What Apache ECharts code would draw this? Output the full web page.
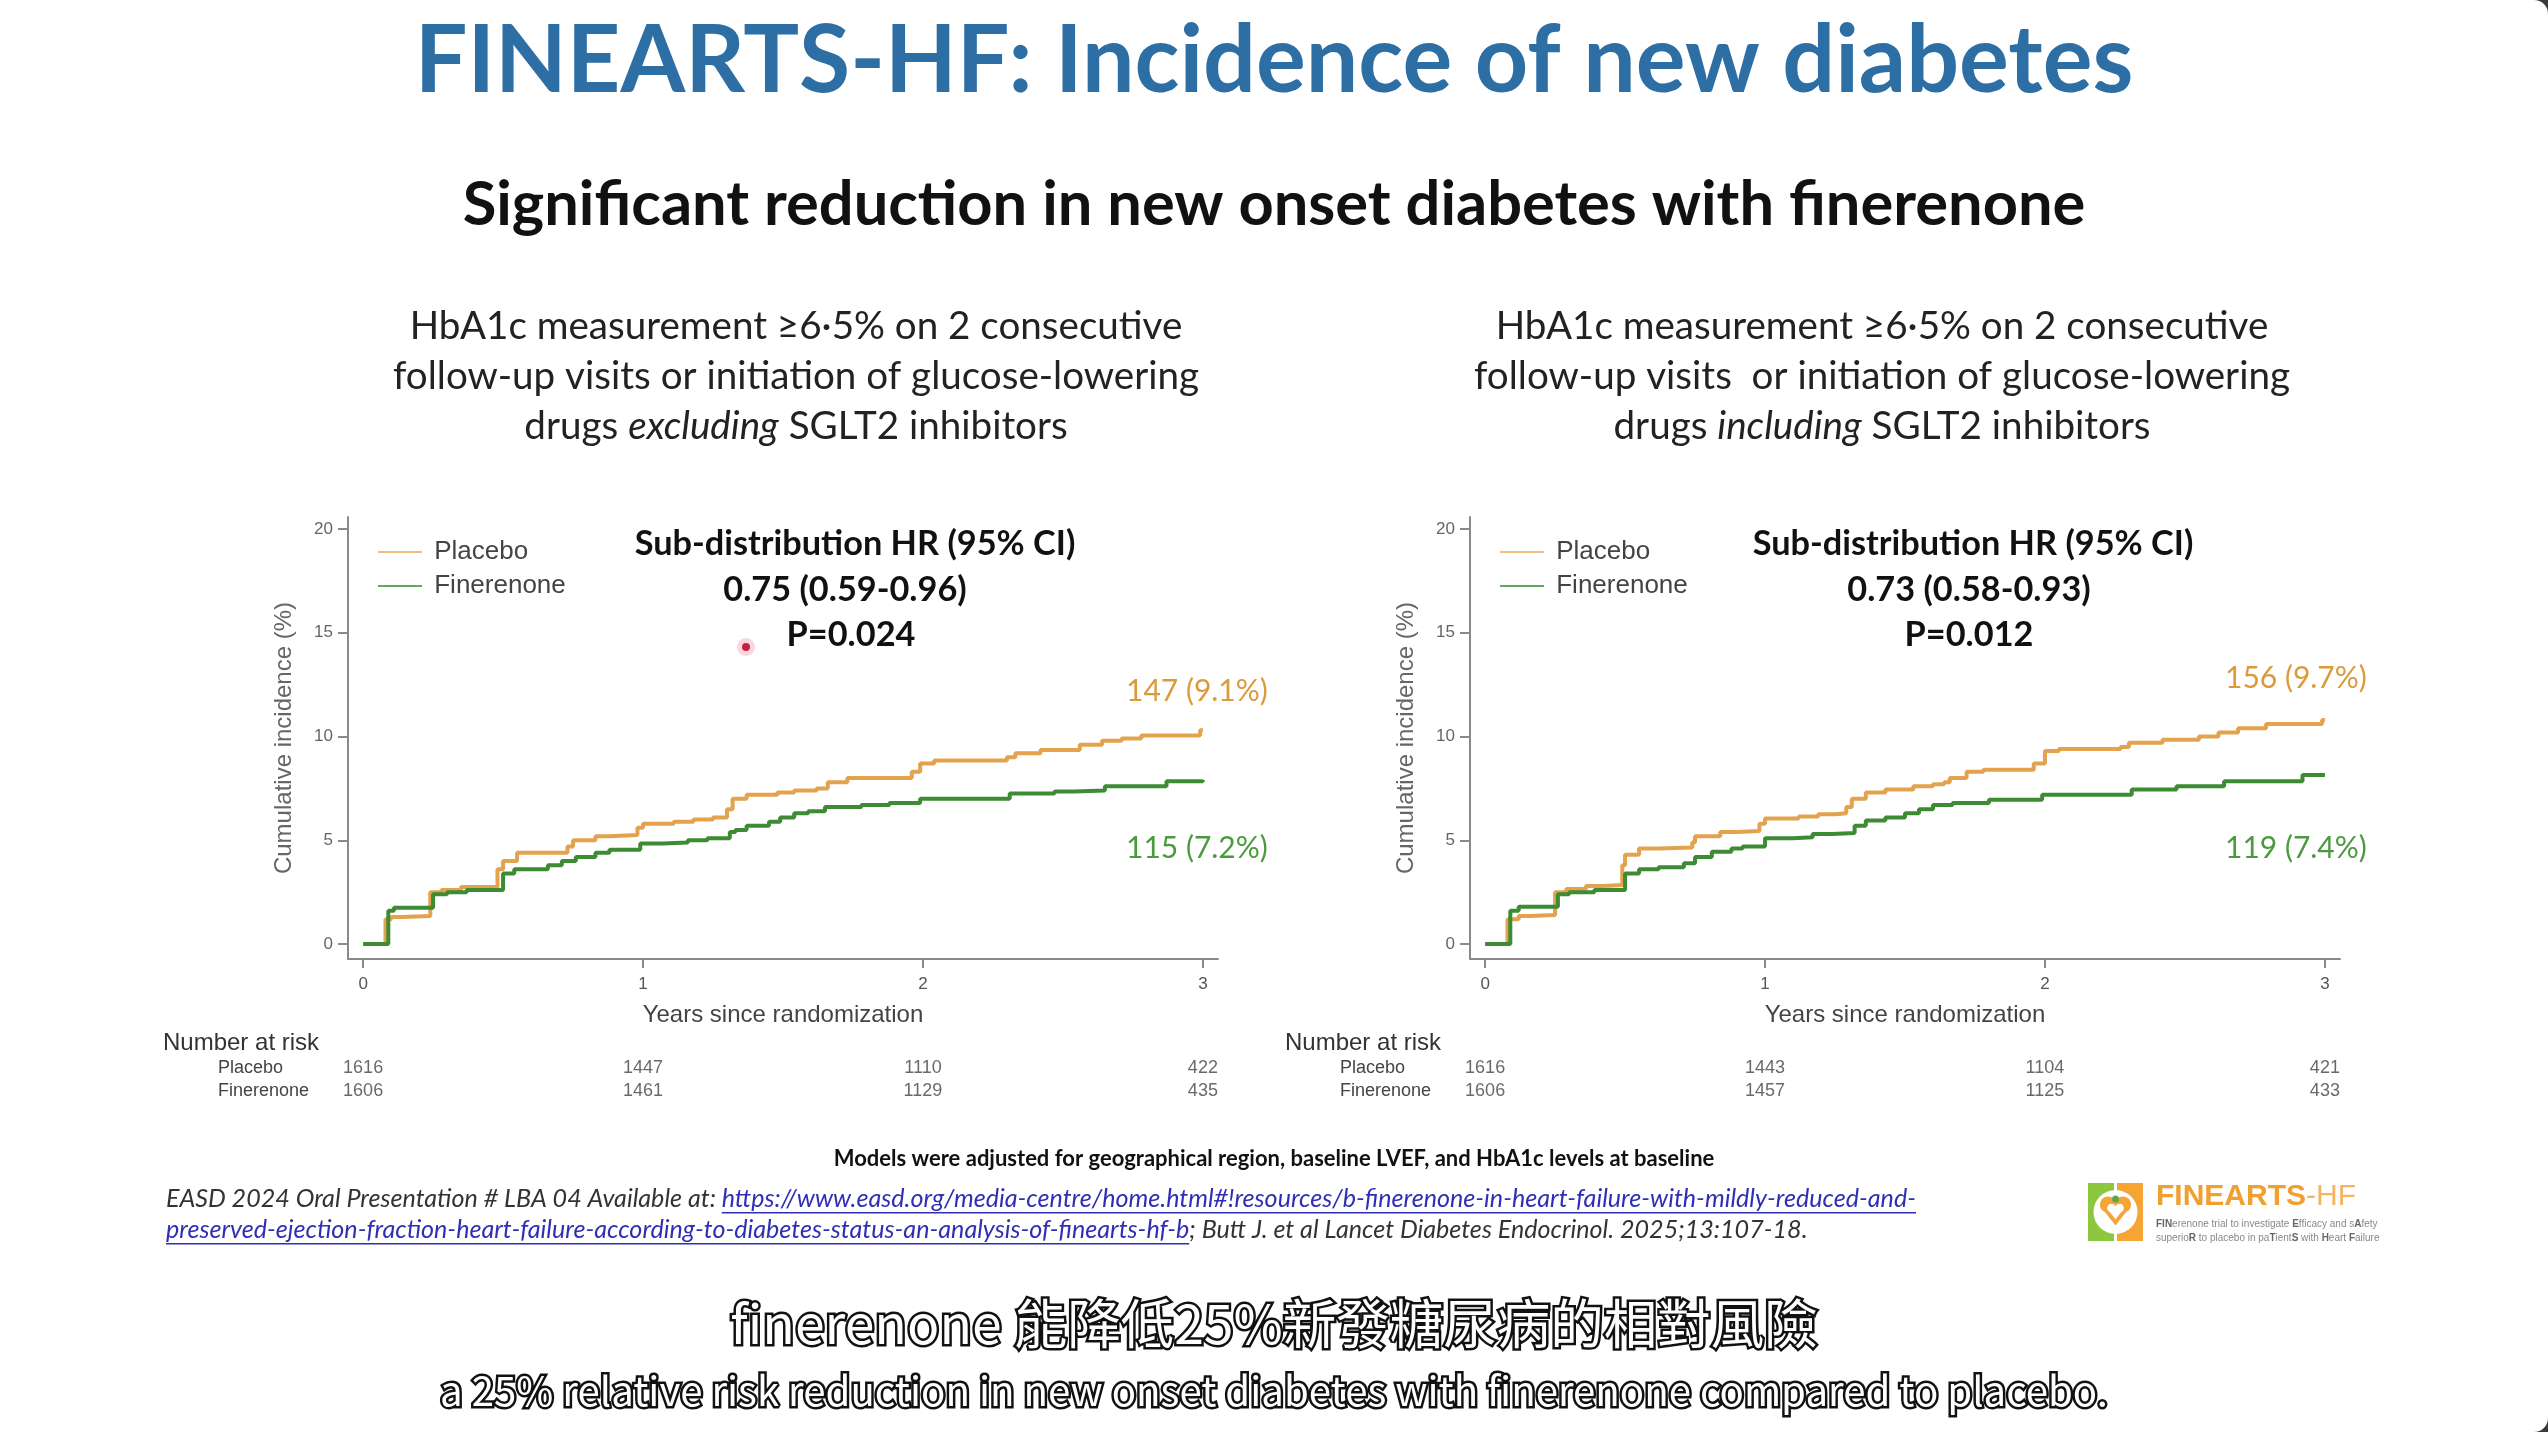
<!DOCTYPE html>
<html>
<head>
<meta charset="utf-8">
<title>FINEARTS-HF: Incidence of new diabetes</title>
<script src="https://cdn.jsdelivr.net/npm/echarts@6/dist/echarts.min.js"></script>
<style>
html, body { margin: 0; padding: 0; background: #3a3a3a; }
#container { width: 2548px; height: 1432px; }
</style>
</head>
<body>
<div id="container"></div>
<script>
// ---- data ----
var years = [0, 1, 2, 3];
var yTicks = [0, 5, 10, 15, 20];
var arms = ['Placebo', 'Finerenone'];

// left panel: glucose-lowering drugs excluding SGLT2 inhibitors
var placeboExcl = [[0,0],[0.08,1.2],[0.10,1.3],[0.14,1.35],[0.24,2.5],[0.28,2.6],[0.35,2.75],[0.48,3.6],[0.50,4.0],[0.55,4.4],[0.73,4.7],[0.75,5.0],[0.83,5.2],[0.88,5.25],[0.98,5.6],[1.00,5.8],[1.11,5.9],[1.18,6.0],[1.25,6.1],[1.30,6.5],[1.32,7.0],[1.37,7.2],[1.48,7.3],[1.54,7.4],[1.62,7.5],[1.66,7.8],[1.73,8.0],[1.96,8.3],[1.99,8.7],[2.04,8.85],[2.30,9.0],[2.33,9.2],[2.42,9.35],[2.56,9.6],[2.64,9.8],[2.71,9.9],[2.78,10.05],[2.99,10.3],[3.0,10.3]];
var finerExcl = [[0,0],[0.09,1.6],[0.11,1.75],[0.25,2.4],[0.30,2.5],[0.37,2.6],[0.50,3.4],[0.54,3.6],[0.66,3.8],[0.71,4.0],[0.76,4.2],[0.83,4.4],[0.88,4.55],[0.99,4.85],[1.07,4.9],[1.16,5.0],[1.23,5.1],[1.31,5.4],[1.33,5.5],[1.37,5.7],[1.45,5.9],[1.49,6.1],[1.54,6.3],[1.59,6.4],[1.65,6.6],[1.78,6.7],[1.88,6.8],[1.99,7.0],[2.31,7.25],[2.47,7.35],[2.54,7.4],[2.65,7.6],[2.87,7.85],[3.0,7.9]];
var riskPlaceboExcl = [1616, 1447, 1110, 422];
var riskFinerExcl = [1606, 1461, 1129, 435];
var hrExcl = ['Sub-distribution HR (95% CI)', '0.75 (0.59-0.96)', 'P=0.024'];
var endExcl = ['147 (9.1%)', '115 (7.2%)'];

// right panel: including SGLT2 inhibitors
var placeboIncl = [[0,0],[0.08,1.2],[0.12,1.35],[0.16,1.4],[0.25,2.5],[0.29,2.65],[0.36,2.8],[0.42,2.85],[0.49,3.8],[0.50,4.3],[0.55,4.6],[0.62,4.65],[0.74,4.9],[0.75,5.2],[0.84,5.4],[0.90,5.45],[0.98,5.8],[1.00,6.05],[1.12,6.15],[1.19,6.25],[1.25,6.3],[1.29,6.6],[1.31,7.0],[1.36,7.3],[1.43,7.45],[1.53,7.6],[1.60,7.7],[1.64,7.8],[1.66,8.0],[1.72,8.3],[1.78,8.4],[1.96,8.7],[2.00,9.3],[2.05,9.4],[2.27,9.5],[2.30,9.7],[2.42,9.85],[2.55,10.0],[2.62,10.2],[2.69,10.4],[2.79,10.6],[2.99,10.8],[3.0,10.8]];
var finerIncl = [[0,0],[0.09,1.6],[0.12,1.8],[0.26,2.4],[0.30,2.5],[0.39,2.6],[0.50,3.4],[0.55,3.6],[0.62,3.7],[0.71,3.9],[0.75,4.2],[0.81,4.45],[0.88,4.6],[0.92,4.7],[1.00,5.1],[1.10,5.15],[1.17,5.3],[1.24,5.35],[1.32,5.7],[1.36,5.95],[1.43,6.1],[1.50,6.3],[1.55,6.5],[1.60,6.7],[1.67,6.8],[1.80,6.95],[1.99,7.2],[2.31,7.45],[2.47,7.6],[2.64,7.85],[2.92,8.15],[3.0,8.15]];
var riskPlaceboIncl = [1616, 1443, 1104, 421];
var riskFinerIncl = [1606, 1457, 1125, 433];
var hrIncl = ['Sub-distribution HR (95% CI)', '0.73 (0.58-0.93)', 'P=0.012'];
var endIncl = ['156 (9.7%)', '119 (7.4%)'];

var captionExcl = ['HbA1c measurement \u22656\u00b75% on 2 consecutive', 'follow-up visits or initiation of glucose-lowering', ['drugs ', 'excluding', ' SGLT2 inhibitors']];
var captionIncl = ['HbA1c measurement \u22656\u00b75% on 2 consecutive', 'follow-up visits  or initiation of glucose-lowering', ['drugs ', 'including', ' SGLT2 inhibitors']];

var refLine1 = [['EASD 2024 Oral Presentation # LBA 04 Available at: ', false], ['https://www.easd.org/media-centre/home.html#!resources/b-finerenone-in-heart-failure-with-mildly-reduced-and-', true]];
var refLine2 = [['preserved-ejection-fraction-heart-failure-according-to-diabetes-status-an-analysis-of-finearts-hf-b', true], ['; Butt J. et al Lancet Diabetes Endocrinol. 2025;13:107-18.', false]];

// ---- styling ----
var orange = '#E2A24E', orangeText = '#DB9A3B', orangeLegend = '#EDBD84';
var green = '#3D8B33', greenText = '#4C9A40', greenLegend = '#64A85E';
var axisGray = '#8a8a8a';
var lato = 'Lato, "Open Sans", sans-serif';
var arial = '"Liberation Sans", Arial, sans-serif';
var cjk = '"Noto Sans CJK TC", "Noto Sans", sans-serif';

var ctx = document.createElement('canvas').getContext('2d');
function measure(font, text) {
    ctx.font = font;
    return ctx.measureText(text).width;
}
function fitSize(style, family, text, width) {
    return Math.round(1000 * width / measure(style + ' 100px ' + family, text)) / 10;
}

var xMin = -0.054, xMax = 3.054, yMin = -0.72, yMax = 20.58;
var panels = [
    { left: 348, placebo: placeboExcl, finer: finerExcl, riskP: riskPlaceboExcl, riskF: riskFinerExcl,
      hr: hrExcl, hrX: [855, 845, 851], end: endExcl, endX: 1126, endY: [691, 848], cap: captionExcl, capX: 796, legendX: 378 },
    { left: 1470, placebo: placeboIncl, finer: finerIncl, riskP: riskPlaceboIncl, riskF: riskFinerIncl,
      hr: hrIncl, hrX: [1973, 1969, 1969], end: endIncl, endX: 2225, endY: [678, 848], cap: captionIncl, capX: 1882, legendX: 1500 }
];

var grids = [], xAxes = [], yAxes = [], series = [], legends = [], graphics = [];

// slide background with rounded right corners
graphics.push({ type: 'rect', z: -10, shape: { x: 0, y: 0, width: 2548, height: 1432, r: [0, 14, 14, 0] }, style: { fill: '#ffffff' } });

panels.forEach(function(p, i) {
    var c = 2 * i;      // curve grid / axes index
    var g = 2 * i + 1;  // number-at-risk grid / axes index

    grids.push({ left: p.left, top: 517, width: 870, height: 442 });
    xAxes.push({
        gridIndex: c, type: 'value', min: xMin, max: xMax,
        axisLine: { show: true, onZero: false, lineStyle: { color: axisGray, width: 2 } },
        axisTick: { show: true, length: 9, customValues: years, lineStyle: { color: axisGray, width: 2 } },
        axisLabel: { customValues: years, margin: 17, fontSize: 17, color: '#555', fontFamily: arial },
        splitLine: { show: false },
        name: 'Years since randomization', nameLocation: 'middle', nameGap: 44,
        nameTextStyle: { fontSize: 24, color: '#444', fontFamily: arial }
    });
    yAxes.push({
        gridIndex: c, type: 'value', min: yMin, max: yMax,
        axisLine: { show: true, onZero: false, lineStyle: { color: axisGray, width: 2 } },
        axisTick: { show: true, length: 10, customValues: yTicks, lineStyle: { color: axisGray, width: 2 } },
        axisLabel: { customValues: yTicks, margin: 15, fontSize: 17, color: '#666', fontFamily: arial },
        splitLine: { show: false },
        name: 'Cumulative incidence (%)', nameLocation: 'middle', nameGap: 52,
        nameTextStyle: { fontSize: 24, color: '#666', fontFamily: arial }
    });
    series.push({
        name: 'Placebo', type: 'line', step: 'end', xAxisIndex: c, yAxisIndex: c,
        showSymbol: false, data: p.placebo, color: orange, lineStyle: { width: 4, color: orange }, z: 3
    });
    series.push({
        name: 'Finerenone', type: 'line', step: 'end', xAxisIndex: c, yAxisIndex: c,
        showSymbol: false, data: p.finer, color: green, lineStyle: { width: 4, color: green }, z: 4
    });
    legends.push({
        orient: 'vertical', left: p.legendX, top: 539, padding: 0, itemGap: 8,
        itemWidth: 44, itemHeight: 2,
        formatter: function(name) { return ' ' + name; },
        textStyle: { fontSize: 26, color: '#444', fontFamily: arial },
        data: [
            { name: 'Placebo', icon: 'rect', itemStyle: { color: orangeLegend } },
            { name: 'Finerenone', icon: 'rect', itemStyle: { color: greenLegend } }
        ]
    });

    // number at risk table
    grids.push({ left: p.left, top: 1057, width: 870, height: 46 });
    xAxes.push({ gridIndex: g, type: 'value', min: xMin, max: xMax, show: false });
    yAxes.push({
        gridIndex: g, type: 'category', data: arms, inverse: true,
        axisLine: { show: false }, axisTick: { show: false },
        axisLabel: { interval: 0, align: 'left', margin: 130, fontSize: 18, color: '#444', fontFamily: arial }
    });
    var cells = [];
    years.forEach(function(t, k) {
        cells.push([t, arms[0], p.riskP[k]]);
        cells.push([t, arms[1], p.riskF[k]]);
    });
    series.push({
        type: 'scatter', xAxisIndex: g, yAxisIndex: g, data: cells, symbolSize: 1,
        itemStyle: { color: 'rgba(0,0,0,0)' }, silent: true,
        label: { show: true, position: 'inside', fontSize: 18, color: '#444', fontFamily: arial,
                 formatter: function(d) { return d.value[2]; } }
    });
    graphics.push({ type: 'text', style: { text: 'Number at risk', x: p.left - 185, y: 1043, font: '24px ' + arial, fill: '#333', verticalAlign: 'middle' } });

    // HR annotation
    var hrSize = fitSize('bold', lato, p.hr[0], 440);
    [544, 590, 635].forEach(function(y, k) {
        graphics.push({ type: 'text', style: { text: p.hr[k], x: p.hrX[k], y: y, font: 'bold ' + hrSize + 'px ' + lato, fill: '#111', align: 'center', verticalAlign: 'middle' } });
    });

    // end-of-curve counts
    var endSize = fitSize('normal', lato, p.end[0], 142);
    graphics.push({ type: 'text', style: { text: p.end[0], x: p.endX, y: p.endY[0], font: endSize + 'px ' + lato, fill: orangeText, verticalAlign: 'middle' } });
    graphics.push({ type: 'text', style: { text: p.end[1], x: p.endX, y: p.endY[1], font: endSize + 'px ' + lato, fill: greenText, verticalAlign: 'middle' } });

    // panel caption
    var capSize = fitSize('normal', lato, p.cap[0], 773);
    graphics.push({ type: 'text', style: { text: p.cap[0], x: p.capX, y: 327, font: capSize + 'px ' + lato, fill: '#222', align: 'center', verticalAlign: 'middle' } });
    graphics.push({ type: 'text', style: { text: p.cap[1], x: p.capX, y: 377, font: capSize + 'px ' + lato, fill: '#222', align: 'center', verticalAlign: 'middle' } });
    graphics.push({ type: 'text', style: {
        text: '{n|' + p.cap[2][0] + '}{i|' + p.cap[2][1] + '}{n|' + p.cap[2][2] + '}',
        x: p.capX, y: 427, align: 'center', verticalAlign: 'middle',
        rich: { n: { fontSize: capSize, fontFamily: lato, fill: '#222' },
                i: { fontSize: capSize, fontFamily: lato, fontStyle: 'italic', fill: '#222' } }
    } });
});

// titles
var titleText = 'FINEARTS-HF: Incidence of new diabetes';
var subText = 'Significant reduction in new onset diabetes with finerenone';
graphics.push({ type: 'text', style: { text: titleText, x: 1274, y: 62, font: 'bold ' + fitSize('bold', lato, titleText, 1719) + 'px ' + lato, fill: '#2D6FA5', align: 'center', verticalAlign: 'middle' } });
graphics.push({ type: 'text', style: { text: subText, x: 1274, y: 205, font: 'bold ' + fitSize('bold', lato, subText, 1623) + 'px ' + lato, fill: '#111', align: 'center', verticalAlign: 'middle' } });

// footnotes
var noteText = 'Models were adjusted for geographical region, baseline LVEF, and HbA1c levels at baseline';
graphics.push({ type: 'text', style: { text: noteText, x: 1274, y: 1159, font: 'bold ' + fitSize('bold', lato, noteText, 881) + 'px ' + lato, fill: '#111', align: 'center', verticalAlign: 'middle' } });

var refSize = fitSize('italic', lato, refLine1[0][0] + refLine1[1][0], 1747);
var refFont = 'italic ' + refSize + 'px ' + lato;
[[refLine1, 1199], [refLine2, 1230]].forEach(function(row) {
    var x = 166;
    row[0].forEach(function(seg) {
        var w = measure(refFont, seg[0]);
        graphics.push({ type: 'text', style: { text: seg[0], x: x, y: row[1], font: refFont, fill: seg[1] ? '#2F2FB5' : '#333', verticalAlign: 'middle' } });
        if (seg[1]) {
            graphics.push({ type: 'line', shape: { x1: x, y1: row[1] + refSize * 0.55, x2: x + w, y2: row[1] + refSize * 0.55 }, style: { stroke: '#2F2FB5', lineWidth: 1.5 } });
        }
        x += w;
    });
});

// trial logo (icon built from simple shapes)
function heart(cx, top, s, fill) {
    return [
        { type: 'circle', shape: { cx: cx - s * 0.25, cy: top + s * 0.25, r: s * 0.27 }, style: { fill: fill } },
        { type: 'circle', shape: { cx: cx + s * 0.25, cy: top + s * 0.25, r: s * 0.27 }, style: { fill: fill } },
        { type: 'polygon', shape: { points: [[cx - s * 0.5, top + s * 0.32], [cx + s * 0.5, top + s * 0.32], [cx, top + s * 0.95]] }, style: { fill: fill } }
    ];
}
graphics.push({ type: 'group', x: 2088, y: 1183, children: [
    { type: 'rect', shape: { x: 0, y: 0, width: 26, height: 58 }, style: { fill: '#8DC63F' } },
    { type: 'rect', shape: { x: 29, y: 0, width: 26, height: 58 }, style: { fill: '#F4A535' } },
    { type: 'circle', shape: { cx: 27.5, cy: 29, r: 22 }, style: { fill: '#ffffff' } }
].concat(heart(27.5, 14, 30, '#F4A535')).concat(heart(27.5, 21, 16, '#ffffff')).concat([
    { type: 'circle', shape: { cx: 27.5, cy: 16, r: 3.5 }, style: { fill: '#5FA84A' } }
]) });
graphics.push({ type: 'text', style: {
    text: '{a|FINEARTS}{b|-HF}', x: 2156, y: 1197, verticalAlign: 'middle',
    rich: { a: { fontSize: 30, fontWeight: 'bold', fontFamily: arial, fill: '#F0A030' },
            b: { fontSize: 30, fontFamily: arial, fill: '#F5B560' } }
} });
var tiny = { n: { fontSize: 10, fontFamily: arial, fill: '#888' }, b: { fontSize: 10, fontFamily: arial, fontWeight: 'bold', fill: '#666' } };
graphics.push({ type: 'text', style: { text: '{b|FIN}{n|erenone trial to investigate }{b|E}{n|fficacy and s}{b|A}{n|fety}', x: 2156, y: 1224, verticalAlign: 'middle', rich: tiny } });
graphics.push({ type: 'text', style: { text: '{n|superio}{b|R}{n| to placebo in pa}{b|T}{n|ient}{b|S}{n| with }{b|H}{n|eart }{b|F}{n|ailure}', x: 2156, y: 1238, verticalAlign: 'middle', rich: tiny } });

// laser pointer dot
graphics.push({ type: 'circle', shape: { cx: 746, cy: 647, r: 9 }, style: { fill: 'rgba(235,90,120,0.25)' } });
graphics.push({ type: 'circle', shape: { cx: 746, cy: 647, r: 4 }, style: { fill: '#C4203F' } });

// video captions
var zhText = 'finerenone \u80fd\u964d\u4f4e25%\u65b0\u767c\u7cd6\u5c3f\u75c5\u7684\u76f8\u5c0d\u98a8\u96aa';
var enText = 'a 25% relative risk reduction in new onset diabetes with finerenone compared to placebo.';
graphics.push({ type: 'text', z: 20, style: { text: zhText, x: 1274, y: 1324, font: fitSize('normal', cjk, zhText, 1087) + 'px ' + cjk, fill: '#ffffff', stroke: '#111', lineWidth: 5, strokeFirst: true, align: 'center', verticalAlign: 'middle' } });
graphics.push({ type: 'text', z: 20, style: { text: enText, x: 1274, y: 1391, font: fitSize('normal', cjk, enText, 1669) + 'px ' + cjk, fill: '#ffffff', stroke: '#111', lineWidth: 5, strokeFirst: true, align: 'center', verticalAlign: 'middle' } });

var myChart = echarts.init(document.getElementById('container'));
myChart.setOption({
    backgroundColor: 'transparent',
    animation: false,
    grid: grids,
    xAxis: xAxes,
    yAxis: yAxes,
    legend: legends,
    series: series,
    graphic: graphics
});
</script>
</body>
</html>
